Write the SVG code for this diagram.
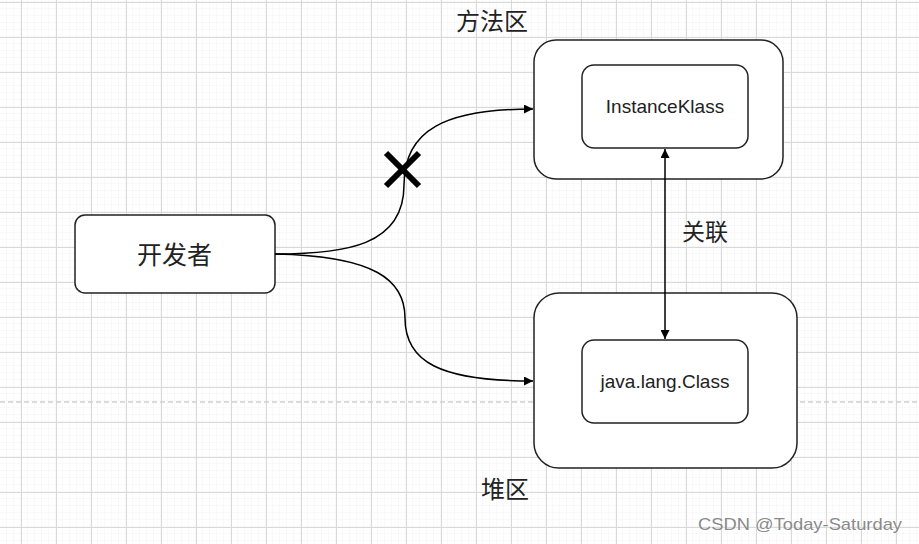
<svg xmlns="http://www.w3.org/2000/svg" width="919" height="544" viewBox="0 0 919 544">
<defs>
<pattern id="minor" x="0" y="2" width="7" height="7" patternUnits="userSpaceOnUse">
<path d="M7 0V7M0 7H7" stroke="#f2f2f2" stroke-width="1" fill="none"/>
</pattern>
<pattern id="major" x="21" y="2" width="35" height="35" patternUnits="userSpaceOnUse">
<path d="M0.5 0V35M0 0.5H35" stroke="#d9d9d9" stroke-width="1" fill="none"/>
</pattern>
<marker id="arr" viewBox="0 0 10 10" refX="10" refY="5" markerWidth="9" markerHeight="9" markerUnits="userSpaceOnUse" orient="auto">
<path d="M0 0L10 5L0 10Z" fill="#000"/>
</marker>
<marker id="arrs" viewBox="0 0 10 10" refX="10" refY="5" markerWidth="9" markerHeight="9" markerUnits="userSpaceOnUse" orient="auto-start-reverse">
<path d="M0 0L10 5L0 10Z" fill="#000"/>
</marker>
</defs>
<style>
.box{fill:#fff;stroke:#222;stroke-width:1.5}
.edge{fill:none;stroke:#000;stroke-width:1.5}
.cjk{font-family:"Noto Sans CJK SC",sans-serif;fill:#222;text-anchor:middle}
.lat{font-family:"Liberation Sans",Arial,sans-serif;fill:#222;text-anchor:middle;font-size:19px}
</style>
<rect width="919" height="544" fill="#fff"/>
<rect width="919" height="544" fill="url(#minor)"/>
<rect width="919" height="544" fill="url(#major)"/>
<line x1="0" y1="402" x2="919" y2="402" stroke="#cfcfcf" stroke-width="1.5" stroke-dasharray="5 3"/>

<g id="developer">
<rect class="box" x="75" y="215" width="200" height="78" rx="10"/>
<text class="cjk" x="174.5" y="264" font-size="25">开发者</text>
</g>

<g id="method-area">
<rect class="box" x="534" y="40" width="249" height="139" rx="22"/>
<text class="cjk" x="492" y="30" font-size="24">方法区</text>
</g>
<g id="instance-klass">
<rect class="box" x="582" y="65" width="166" height="83" rx="12"/>
<text class="lat" x="665" y="113">InstanceKlass</text>
</g>

<g id="heap">
<rect class="box" x="534" y="293" width="263" height="175" rx="25"/>
<text class="cjk" x="505" y="498" font-size="24">堆区</text>
</g>
<g id="java-lang-class">
<rect class="box" x="582" y="340" width="166" height="83" rx="12"/>
<text class="lat" x="665" y="388">java.lang.Class</text>
</g>

<g id="connectors">
<path class="edge" d="M275 254C345 254 404 246 404 185C404 130 445 109 533 109" marker-end="url(#arr)"/>
<path class="edge" d="M275 254C375 256 405 280 405 318C405 362 440 381 533 381" marker-end="url(#arr)"/>
<line class="edge" x1="665" y1="149" x2="665" y2="339" marker-start="url(#arrs)" marker-end="url(#arrs)"/>
<g id="cross" stroke="#000" stroke-width="6">
<line x1="386" y1="153" x2="419" y2="186"/>
<line x1="419" y1="153" x2="386" y2="186"/>
</g>
<text class="cjk" x="705" y="240" font-size="23">关联</text>
</g>

<text x="698" y="530" textLength="204" lengthAdjust="spacingAndGlyphs" font-family="Liberation Sans,Arial,sans-serif" font-size="17" fill="#8a8a8a" stroke="#fff" stroke-width="0.5" paint-order="stroke">CSDN @Today-Saturday</text>
</svg>
